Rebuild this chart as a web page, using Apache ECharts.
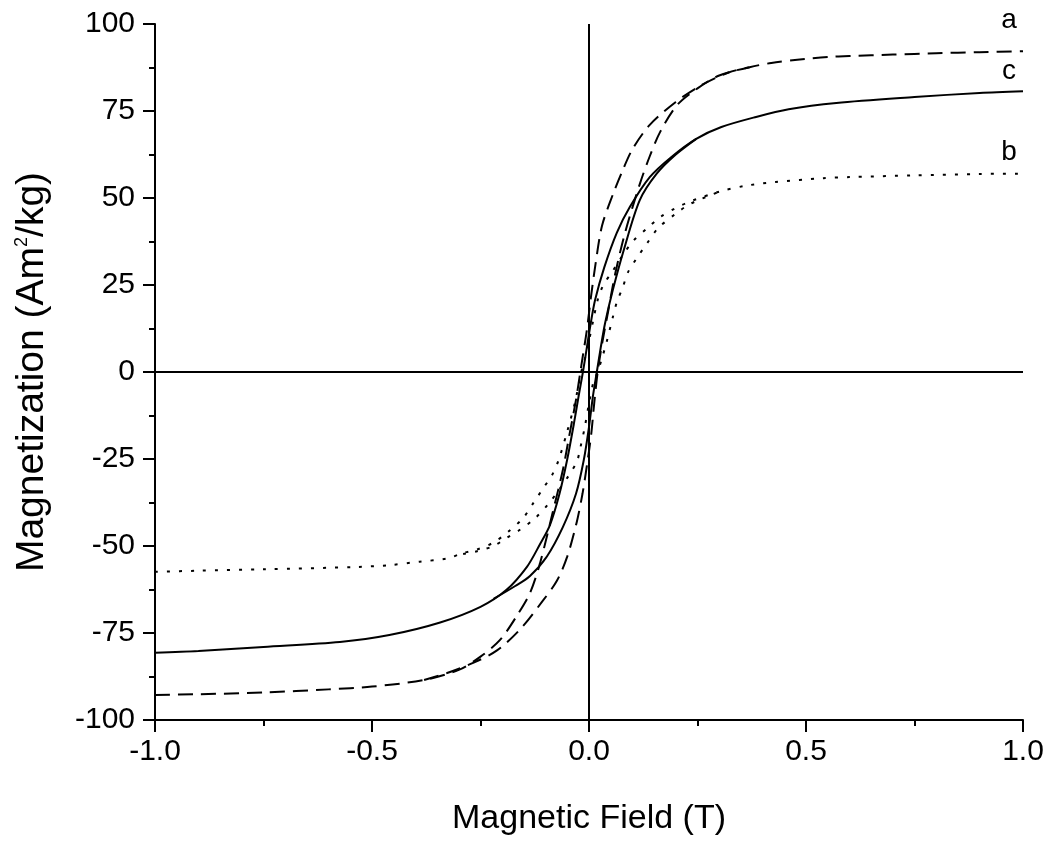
<!DOCTYPE html>
<html>
<head>
<meta charset="utf-8">
<script src="https://cdn.jsdelivr.net/npm/echarts@6/dist/echarts.min.js"></script>
<style>html,body{margin:0;padding:0;background:#fff}#chart{width:1050px;height:844px}</style>
</head>
<body>
<div id="chart"></div>
<script>
// Each loop: outer (descending) branch spans the full field range, listed from -1 to +1;
// inner (ascending) branch covers only the open part of the loop where it separates.
// Curve a (dashed)
const aOuter = [[-1.0,-92.8],[-0.9,-92.6],[-0.75,-92.1],[-0.6,-91.2],[-0.5,-90.4],[-0.38,-88.5],[-0.3,-85.6],[-0.25,-81.8],[-0.205,-77],[-0.166,-70],[-0.136,-63.5],[-0.113,-55],[-0.083,-40],[-0.06,-28],[-0.045,-18],[-0.03,-8],[-0.02,0],[-0.015,4],[-0.005,12],[0.005,22],[0.015,31],[0.03,42],[0.055,51],[0.076,57.5],[0.1,64],[0.14,71],[0.2,77.6],[0.26,82.5],[0.32,86.0],[0.37,87.6],[0.42,88.8],[0.48,89.7],[0.55,90.5],[0.6,90.8],[0.7,91.2],[0.8,91.6],[0.9,91.9],[1.0,92.2]];
const aInner = [[-0.38,-88.5],[-0.327,-86.5],[-0.267,-83.6],[-0.212,-80],[-0.159,-74],[-0.108,-66],[-0.074,-60],[-0.05,-53],[-0.028,-43],[-0.015,-35],[-0.005,-27],[0.005,-18],[0.012,-9],[0.02,0],[0.03,8],[0.045,18],[0.06,28],[0.083,40],[0.117,54],[0.14,62],[0.164,69],[0.203,76.7],[0.25,81.5],[0.3,85.2],[0.37,87.6]];

// Curve b (dotted)
const bOuter = [[-1.0,-57.4],[-0.9,-57.1],[-0.75,-56.7],[-0.53,-56],[-0.46,-55.5],[-0.39,-54.5],[-0.327,-53.6],[-0.29,-52],[-0.258,-51],[-0.22,-49],[-0.187,-46],[-0.152,-42],[-0.128,-37.6],[-0.105,-33.3],[-0.085,-29.6],[-0.07,-25.3],[-0.05,-17],[-0.032,-8.6],[-0.018,0],[-0.01,3.5],[0.0,9],[0.01,15],[0.02,20.7],[0.033,25],[0.053,28.7],[0.075,33],[0.1,37.4],[0.134,41.3],[0.164,44.5],[0.198,47],[0.233,49],[0.3,51.8],[0.36,53.5],[0.43,54.6],[0.54,55.7],[0.6,56],[0.75,56.5],[0.9,56.9],[1.0,57]];
const bInner = [[-0.29,-52.3],[-0.258,-51.5],[-0.22,-50],[-0.19,-47.7],[-0.16,-45.4],[-0.124,-42],[-0.094,-38],[-0.07,-34],[-0.048,-30],[-0.028,-25.8],[-0.02,-21.8],[-0.01,-16],[0.0,-9],[0.01,-3],[0.02,0],[0.03,4],[0.04,8.3],[0.055,15.8],[0.064,20],[0.078,24.4],[0.09,28.7],[0.11,32.7],[0.134,37],[0.159,41.3],[0.2,45.5],[0.233,48.3],[0.3,51.8]];

// Curve c (solid)
const cOuter = [[-1.0,-80.7],[-0.9,-80.2],[-0.75,-79],[-0.574,-77.6],[-0.46,-75.6],[-0.343,-72],[-0.25,-67.5],[-0.19,-62.6],[-0.143,-56],[-0.113,-49.5],[-0.09,-44],[-0.068,-35],[-0.05,-25],[-0.035,-15],[-0.024,-7],[-0.014,0],[-0.005,7],[0.004,14],[0.014,20.7],[0.035,30],[0.064,40],[0.094,47.4],[0.14,56],[0.19,61.8],[0.247,67],[0.305,70.4],[0.385,73.3],[0.46,75.5],[0.57,77.3],[0.75,79],[0.9,80.2],[1.0,80.7]];
const cInner = [[-0.22,-65.2],[-0.17,-61.5],[-0.136,-58.6],[-0.097,-53],[-0.06,-44.5],[-0.03,-35],[-0.012,-25.3],[0.0,-15.8],[0.009,-7],[0.018,0],[0.027,7],[0.037,14],[0.055,23.6],[0.08,35],[0.117,49.4],[0.156,57],[0.2,62.5],[0.247,67]];

const curveNames = ['a', 'b', 'c'];
const xTicks = [-1.0, -0.5, 0.0, 0.5, 1.0];
const yTicks = [-100, -75, -50, -25, 0, 25, 50, 75, 100];
const xTitle = 'Magnetic Field (T)';
const yTitle = 'Magnetization (Am{sup|2}/kg)';

const FONT = '"Liberation Sans", Arial, Helvetica, sans-serif';
const chart = echarts.init(document.getElementById('chart'), null, {renderer: 'canvas'});

function branch(name, data, lineType, labelOffset) {
  const s = {
    name: name,
    type: 'line',
    data: data,
    showSymbol: false,
    symbol: 'none',
    smooth: 0.3,
    clip: false,
    lineStyle: {color: '#000', width: 2, type: lineType},
    animation: false
  };
  if (labelOffset) {
    s.endLabel = {show: true, formatter: name, color: '#000', fontSize: 28, fontFamily: FONT,
      offset: labelOffset, align: 'center', verticalAlign: 'middle'};
  }
  return s;
}

const DASH = [15, 8];
const DOT = [3, 9];

const option = {
  animation: false,
  backgroundColor: '#fff',
  grid: {left: 155, right: 27, top: 24, bottom: 124, containLabel: false},
  xAxis: {
    type: 'value',
    min: xTicks[0], max: xTicks[xTicks.length - 1], interval: 0.5,
    name: xTitle, nameLocation: 'middle', nameGap: 82,
    nameTextStyle: {fontSize: 34, color: '#000', fontFamily: FONT},
    axisLine: {show: true, onZero: false, lineStyle: {color: '#000', width: 2}},
    axisTick: {show: true, inside: false, length: 12, lineStyle: {color: '#000', width: 2}},
    minorTick: {show: true, splitNumber: 2, length: 6, lineStyle: {color: '#000', width: 2}},
    splitLine: {show: false},
    axisLabel: {fontSize: 30, color: '#000', fontFamily: FONT, margin: 17, formatter: v => v.toFixed(1)}
  },
  yAxis: {
    type: 'value',
    min: yTicks[0], max: yTicks[yTicks.length - 1], interval: 25,
    name: yTitle, nameLocation: 'middle', nameGap: 103, nameRotate: 90,
    nameTextStyle: {fontSize: 39, color: '#000', fontFamily: FONT,
      rich: {sup: {fontSize: 18, verticalAlign: 'top', fontFamily: FONT, color: '#000', padding: [0, 0, 20, 0]}}},
    axisLine: {show: true, onZero: false, lineStyle: {color: '#000', width: 2}},
    axisTick: {show: true, inside: false, length: 12, lineStyle: {color: '#000', width: 2}},
    minorTick: {show: true, splitNumber: 2, length: 6, lineStyle: {color: '#000', width: 2}},
    splitLine: {show: false},
    axisLabel: {fontSize: 30, color: '#000', fontFamily: FONT, margin: 20}
  },
  series: [
    Object.assign(branch(curveNames[0], aOuter, DASH, [-22, -31]), {
      markLine: {
        silent: true, symbol: 'none', animation: false,
        label: {show: false},
        lineStyle: {color: '#000', type: 'solid', width: 2},
        data: [{xAxis: 0}, {yAxis: 0}]
      }
    }),
    branch(curveNames[0] + '-inner', aInner, DASH, null),
    branch(curveNames[1], bOuter, DOT, [-22, -21]),
    branch(curveNames[1] + '-inner', bInner, DOT, null),
    branch(curveNames[2], cOuter, 'solid', [-22, -20]),
    branch(curveNames[2] + '-inner', cInner, 'solid', null)
  ]
};
chart.setOption(option);
</script>
</body>
</html>
